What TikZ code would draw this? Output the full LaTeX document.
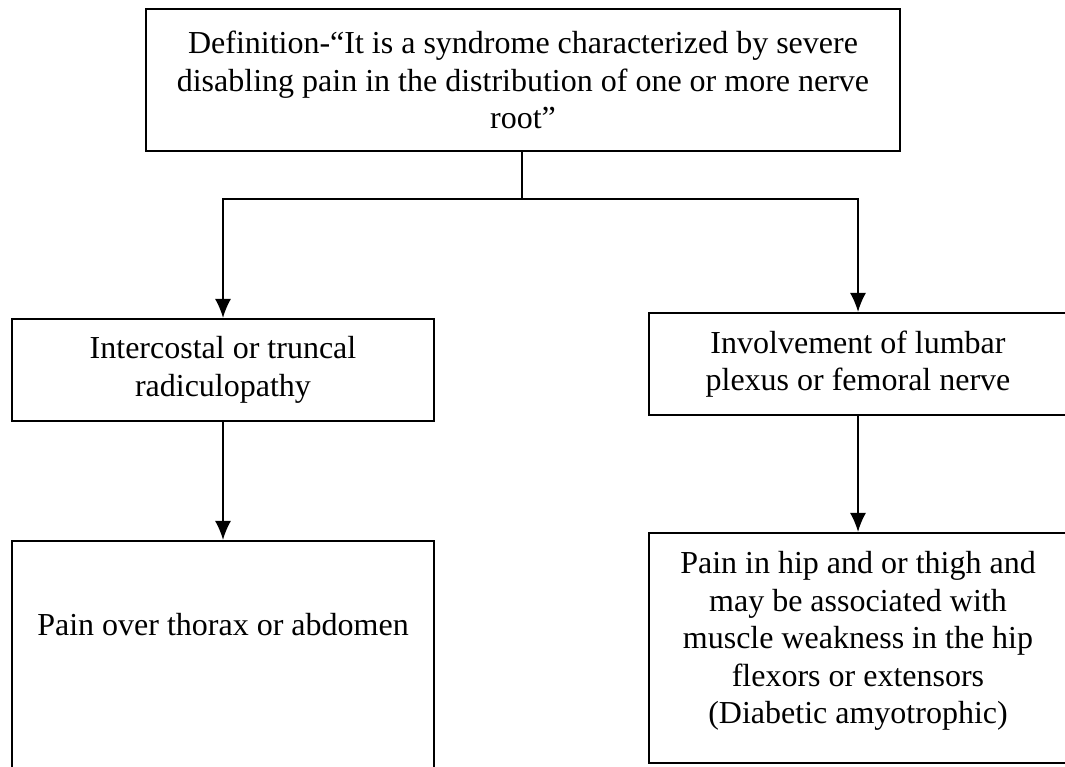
\documentclass[tikz,border=0pt]{standalone}
\usepackage{fontspec}
\setmainfont{Liberation Serif}
\usetikzlibrary{arrows.meta, positioning}

\begin{document}
\begin{tikzpicture}[x=1pt, y=-1pt]
\tikzstyle{box}=[rectangle, draw=black, line width=2.2pt, align=center, inner sep=0pt, font=\fontsize{32}{37.5}\selectfont]
\tikzstyle{label}=[align=center, inner sep=0pt, font=\fontsize{32}{37.5}\selectfont]
\tikzstyle{connect}=[-{Latex[length=19pt, width=16pt]}, line width=1.6pt]
\tikzstyle{line}=[line width=1.6pt]
    \useasboundingbox (0,0) rectangle (1065,766);
    \clip (0,0) rectangle (1065,766);
    % boxes
    \node[box, minimum width=754pt, minimum height=142pt] (def) at (523,80)
        {Definition-``It is a syndrome characterized by severe\\disabling pain in the distribution of one or more nerve\\root''};
    \node[box, minimum width=422pt, minimum height=102pt] (inter) at (223,370)
        {Intercostal or truncal\\radiculopathy};
    \node[box, minimum width=418pt, minimum height=102pt] (lumbar) at (858,364)
        {Involvement of lumbar\\plexus or femoral nerve};
    \node[box, minimum width=422pt, minimum height=239pt] (thorax) at (223,660.5) { };
    \node[label] (thoraxtext) at (223,625) {Pain over thorax or abdomen};
    \node[box, minimum width=418pt, minimum height=230pt] (hip) at (858,648)
        {Pain in hip and or thigh and\\may be associated with\\muscle weakness in the hip\\flexors or extensors\\(Diabetic amyotrophic)\\[-17pt]};
    % connectors
    \coordinate (split) at (522,199);
    \draw[line] (def.south -| split) -- (split);
    \draw[connect] (split) -| (inter.north);
    \draw[connect] (split) -| (lumbar.north);
    \draw[connect] (inter) -- (thorax);
    \draw[connect] (lumbar) -- (hip);
\end{tikzpicture}
\end{document}
